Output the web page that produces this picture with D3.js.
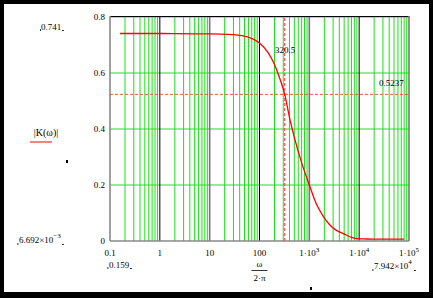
<!DOCTYPE html>
<html>
<head>
<meta charset="utf-8">
<script src="https://cdn.jsdelivr.net/npm/d3@7"></script>
<style>
  html, body { margin:0; padding:0; background:#000; }
  svg { display:block; }
  text { font-family: "Liberation Serif", "DejaVu Serif", serif; fill:#000; }
</style>
</head>
<body>
<svg id="canvas" width="433" height="298"></svg>
<script>
// values: f = omega/(2*pi), K = |K(omega)|
const freq = [0.159, 1, 5, 10, 30, 60, 100, 150, 200, 250, 320.5, 411, 500, 700, 1000, 1400, 1920, 2500, 3500, 4840, 7000, 9000, 15000, 30000, 79420];
const gain = [0.741, 0.741, 0.740, 0.740, 0.737, 0.728, 0.707, 0.672, 0.630, 0.585, 0.5237, 0.432, 0.370, 0.280, 0.200, 0.130, 0.087, 0.060, 0.038, 0.0265, 0.013, 0.0088, 0.0072, 0.0068, 0.006692];

const yTicks = [0, 0.2, 0.4, 0.6, 0.8];
const xDecades = [0.1, 1, 10, 100, 1000, 10000, 100000];
const xTickLabels = [['0.1', null], ['1', null], ['10', null], ['100', null], ['1·10', '3'], ['1·10', '4'], ['1·10', '5']];

const markerX = 320.5;
const markerY = 0.5237;

const svg = d3.select('#canvas');
svg.append('rect').attr('x',4).attr('y',4).attr('width',425).attr('height',288).attr('fill','#fff');

const x = d3.scaleLog().domain([0.1, 1e5]).range([110, 409]);
const y = d3.scaleLinear().domain([0, 0.8]).range([241, 17]);

const grid = svg.append('g');

// minor vertical grid (green)
const minor = [];
xDecades.slice(0, -1).forEach(d => { for (let k = 2; k <= 9; k++) minor.push(d * k); });
grid.selectAll('line.minor').data(minor).join('line')
  .attr('x1', d => x(d)).attr('x2', d => x(d))
  .attr('y1', y(0)).attr('y2', y(0.8))
  .attr('stroke', '#14e614').attr('stroke-width', 1);

// horizontal grid
grid.selectAll('line.h').data(yTicks.slice(1)).join('line')
  .attr('x1', x(0.1)).attr('x2', x(1e5))
  .attr('y1', d => y(d)).attr('y2', d => y(d))
  .attr('stroke', '#14e614').attr('stroke-width', 1);

// decade lines
grid.selectAll('line.dec').data(xDecades.slice(1, -1)).join('line')
  .attr('x1', d => x(d)).attr('x2', d => x(d))
  .attr('y1', y(0)).attr('y2', y(0.8))
  .attr('stroke', (d, i) => i % 2 ? '#777' : '#000').attr('stroke-width', (d, i) => i % 2 ? 1.6 : 1);

// frame
svg.append('line').attr('x1', x(0.1)).attr('x2', x(1e5)).attr('y1', y(0.8) - 0.5).attr('y2', y(0.8) - 0.5).attr('stroke', '#000');
svg.append('line').attr('x1', x(0.1)).attr('x2', x(0.1)).attr('y1', y(0)).attr('y2', y(0.8) - 1).attr('stroke', '#888').attr('stroke-width', 1.6);
svg.append('line').attr('x1', x(1e5)).attr('x2', x(1e5)).attr('y1', y(0)).attr('y2', y(0.8) - 1).attr('stroke', '#777').attr('stroke-width', 1.6);
svg.append('line').attr('x1', x(0.1)).attr('x2', x(1e5)).attr('y1', y(0)).attr('y2', y(0)).attr('stroke', '#888').attr('stroke-width', 1.4);

// markers
svg.append('line').attr('x1', x(markerX)).attr('x2', x(markerX)).attr('y1', y(0)).attr('y2', y(0.8))
  .attr('stroke', '#ff4a4a').attr('stroke-width', 1.2).attr('stroke-dasharray', '3,2');
svg.append('line').attr('x1', x(0.1)).attr('x2', x(1e5)).attr('y1', y(markerY)).attr('y2', y(markerY))
  .attr('stroke', '#ff4a4a').attr('stroke-width', 1).attr('stroke-dasharray', '3,2');

// curve
const pts = freq.map((f, i) => [f, gain[i]]);
svg.append('path').datum(pts)
  .attr('d', d3.line().x(d => x(d[0])).y(d => y(d[1])).curve(d3.curveMonotoneX))
  .attr('fill', 'none').attr('stroke', '#ff0000').attr('stroke-width', 1.3);

// y axis labels
const yAxis = d3.axisLeft(y).tickValues(yTicks).tickSize(0).tickPadding(5)
  .tickFormat(d => d === 0 ? '0' : d3.format('.1f')(d));
const ya = svg.append('g').attr('transform', `translate(${x(0.1)},0)`).call(yAxis);
ya.select('.domain').remove();
ya.selectAll('text').attr('font-family', '"Liberation Serif", serif').attr('font-size', 9).attr('fill', '#000');

// x axis labels
const xl = svg.append('g');
xDecades.forEach((d, i) => {
  const [base, sup] = xTickLabels[i];
  const t = xl.append('text').attr('x', x(d)).attr('y', 256).attr('font-size', 9).attr('text-anchor', 'middle');
  t.append('tspan').text(base);
  if (sup) t.append('tspan').attr('dy', -4).attr('font-size', 7).text(sup);
});

function smallMarks(xl, xr, yb) {
  svg.append('rect').attr('x', xl).attr('y', yb - 2).attr('width', 0.8).attr('height', 2).attr('fill', '#000');
  svg.append('rect').attr('x', xr).attr('y', yb - 0.8).attr('width', 2).attr('height', 0.8).attr('fill', '#000');
}

// range labels
svg.append('text').attr('x', 41).attr('y', 30).attr('font-size', 9).text('0.741');
smallMarks(40, 62, 31);
svg.append('text').attr('x', 109).attr('y', 268).attr('font-size', 9).text('0.159');
smallMarks(107.5, 130, 269);
const t1 = svg.append('text').attr('x', 19).attr('y', 243).attr('font-size', 9);
t1.append('tspan').text('6.692×10');
t1.append('tspan').attr('dy', -5).attr('font-size', 7).text('−3');
smallMarks(17.5, 62, 245);
const t2 = svg.append('text').attr('x', 374).attr('y', 269).attr('font-size', 9);
t2.append('tspan').text('7.942×10');
t2.append('tspan').attr('dy', -5).attr('font-size', 7).text('4');
smallMarks(372.5, 414, 271);

// y title
svg.append('text').attr('x', 46).attr('y', 136).attr('font-size', 10).attr('text-anchor', 'middle').text('|K(ω)|');
svg.append('line').attr('x1', 30).attr('x2', 52).attr('y1', 142).attr('y2', 142).attr('stroke', '#f00').attr('stroke-width', 1);
svg.append('rect').attr('x', 66).attr('y', 160).attr('width', 2).attr('height', 3).attr('fill', '#000');

// x title
svg.append('text').attr('x', x(100)).attr('y', 267).attr('font-size', 9).attr('text-anchor', 'middle').text('ω');
svg.append('line').attr('x1', x(100) - 8).attr('x2', x(100) + 8).attr('y1', 270.5).attr('y2', 270.5).attr('stroke', '#000').attr('stroke-width', 0.8);
svg.append('text').attr('x', x(100)).attr('y', 281).attr('font-size', 9).attr('text-anchor', 'middle').text('2·π');
svg.append('rect').attr('x', 310).attr('y', 287).attr('width', 2).attr('height', 3).attr('fill', '#000');

// marker labels
svg.append('text').attr('x', 275).attr('y', 53).attr('font-size', 9).text(markerX);
svg.append('text').attr('x', 379).attr('y', 86).attr('font-size', 9).text(markerY);
</script>
</body>
</html>
